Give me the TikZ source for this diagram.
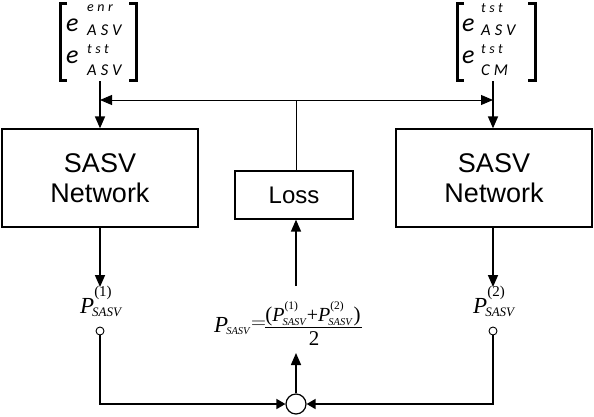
\documentclass[tikz,border=0pt]{standalone}
\usepackage{fontspec}
\setmainfont{Liberation Serif}
\newfontfamily\sansf{Liberation Sans}
\newfontfamily\efont{Carlito}
\newfontfamily\esp[LetterSpace=25]{Carlito}
\usetikzlibrary{arrows.meta}
\newcommand\fs[2]{\fontsize{#1}{#2}\selectfont}
\newcommand\PL[1]{{\fs{23}{23}\itshape P}\rlap{\raisebox{17pt}{\fs{15}{15}(#1)}}\kern-2pt\raisebox{-3pt}{\fs{13}{13}\itshape SASV}}
\newcommand\PN[1]{{\fs{20}{20}\itshape P}\rlap{\raisebox{12pt}{\fs{11.5}{11.5}(#1)}}\kern-2pt\raisebox{-4pt}{\fs{10.5}{10.5}\itshape SASV}}
\tikzset{
  box/.style={draw, line width=1.3pt, inner sep=0pt, align=center},
  etxt/.style={font=\efont\itshape\fs{26}{26}, inner sep=0pt, anchor=base west},
  supt/.style={font=\esp\itshape\fs{14}{14}, inner sep=0pt, anchor=base west},
  subt/.style={font=\esp\itshape\fs{16.5}{16.5}, inner sep=0pt, anchor=base west},
  brk/.style={line width=3pt, line cap=butt, line join=miter},
  main/.style={line width=1.6pt},
  thinl/.style={line width=0.9pt},
  tip/.style={-{Triangle[length=12pt,width=10pt]}},
  stip/.style={-{Triangle[length=9pt,width=10pt]}},
  plab/.style={inner sep=0pt, anchor=base west},
}
\begin{document}
\begin{tikzpicture}[x=1pt,y=-1pt]
\useasboundingbox (0,0) rectangle (594,416);
% left input matrix
\draw[brk] (67,3) -- (60,3) -- (60,80) -- (67,80);
\draw[brk] (129,3) -- (136,3) -- (136,80) -- (129,80);
\node[etxt] (e1L) at (66,31) {e};
\node[supt] (s1L) at (87,11) {enr};
\node[subt] (b1L) at (87,35) {ASV};
\node[etxt] (e2L) at (66,63) {e};
\node[supt] (s2L) at (87,53) {tst};
\node[subt] (b2L) at (87,75) {ASV};
% right input matrix
\draw[brk] (464,3) -- (457,3) -- (457,80) -- (464,80);
\draw[brk] (528,3) -- (535,3) -- (535,80) -- (528,80);
\node[etxt] (e1R) at (462,31) {e};
\node[supt] (s1R) at (481,12) {tst};
\node[subt] (b1R) at (481,35) {ASV};
\node[etxt] (e2R) at (462,63) {e};
\node[supt] (s2R) at (481,53) {tst};
\node[subt] (b2R) at (481,75) {CM};
\coordinate (mL) at (100,81);
\coordinate (mR) at (493,81);
% boxes
\node[box, minimum width=196pt, minimum height=98pt, font=\sansf\fs{27}{30}] (netL) at (100,178) {SASV\\Network};
\node[box, minimum width=196pt, minimum height=98pt, font=\sansf\fs{27}{30}] (netR) at (494,178) {SASV\\Network};
\node[box, minimum width=118pt, minimum height=48pt, font=\sansf\fs{24}{24}] (loss) at (294,195) {Loss};
% top connectors
\coordinate (jL) at (100,100);
\coordinate (jR) at (493,100);
\coordinate (jC) at (296,100);
\draw[main, tip] (mL) -- (mL |- netL.north);
\draw[main, tip] (mR) -- (mR |- netR.north);
\draw[thinl, {Triangle[length=12pt,width=10pt]}-{Triangle[length=12pt,width=10pt]}] (jL) -- (jR);
\draw[thinl] (jC) -- (jC |- loss.north);
% lower branches
\coordinate (tL) at (100,287);
\coordinate (tR) at (493,287);
\draw[main, tip] (mL |- netL.south) -- (tL);
\draw[main, tip] (mR |- netR.south) -- (tR);
\node[plab] (pL) at (80,313) {\PL{1}};
\node[plab] (pR) at (473,313) {\PL{2}};
\node[draw, circle, line width=0.9pt, fill=white, minimum size=8pt, inner sep=0pt] (cL) at (100,331) {};
\node[draw, circle, line width=0.9pt, fill=white, minimum size=8pt, inner sep=0pt] (cR) at (493,331) {};
\node[draw, circle, line width=1.2pt, fill=white, minimum size=20pt, inner sep=0pt] (sum) at (296,404) {};
\draw[main, stip] (cL.south) |- (sum.west);
\draw[main, stip] (cR.south) |- (sum.east);
% formula
\coordinate (fT) at (296,353);
\draw[main, tip] (sum.north) -- (fT);
\coordinate (lS) at (296,286);
\draw[main, tip] (lS) -- (lS |- loss.south);
\node[plab] (fP) at (214,332) {{\fs{23}{23}\itshape P}\kern-2pt\raisebox{-2pt}{\fs{10.5}{10.5}\itshape SASV}};
\node[inner sep=0pt, font=\fs{22}{22}] (feq) at (258.5,325) {$=$};
\node[inner sep=0pt, anchor=base] (fnum) at (313,321) {{\fs{21}{21}(}\PN{1}\kern1pt{\fs{20}{20}+}\kern0pt\PN{2}\kern2pt{\fs{21}{21})}};
\coordinate (barL) at (265,327);
\coordinate (barR) at (362,327);
\draw[line width=0.8pt] (barL) -- (barR);
\node[inner sep=0pt, anchor=base, font=\fs{21}{21}] (fden) at (314,345) {2};
\end{tikzpicture}
\end{document}
